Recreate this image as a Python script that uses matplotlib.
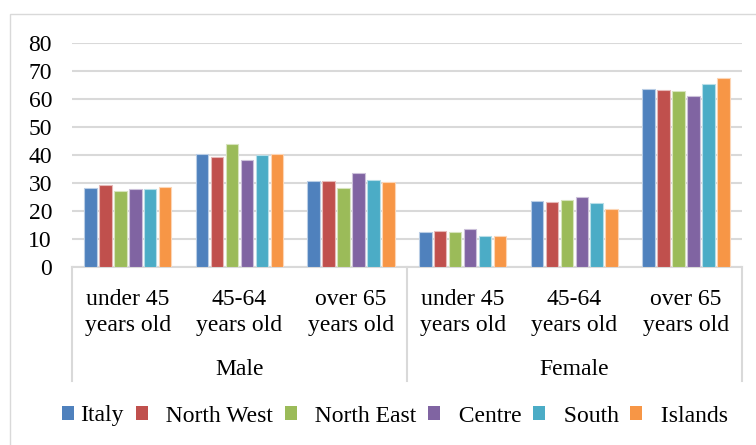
import matplotlib
matplotlib.use("Agg")
import matplotlib.pyplot as plt
import matplotlib.transforms as mtransforms
import matplotlib.colors as mcolors
from matplotlib.patches import Patch, Rectangle
import numpy as np

# ---- data -------------------------------------------------------------
regions = ["Italy", "North West", "North East", "Centre", "South", "Islands"]
region_colors = ["#4F81BD", "#C0504D", "#9BBB59", "#8064A2", "#4BACC6", "#F79646"]
sexes = ["Male", "Female"]
age_line1 = ["under 45", "45-64", "over 65"]
age_line2 = ["years old", "years old", "years old"]

# values per region, ordered Male (3 age groups) then Female (3 age groups)
italy      = [28.2, 40.2, 30.7, 12.6, 23.5, 63.5]
north_west = [29.4, 39.4, 30.6, 12.8, 23.3, 63.3]
north_east = [27.2, 43.8, 28.1, 12.6, 24.0, 62.8]
centre     = [27.8, 38.1, 33.5, 13.5, 24.9, 60.9]
south      = [27.9, 40.1, 31.2, 11.3, 23.0, 65.2]
islands    = [28.6, 40.3, 30.3, 11.1, 20.6, 67.4]
series = [italy, north_west, north_east, centre, south, islands]

y_ticks = [0, 10, 20, 30, 40, 50, 60, 70, 80]

# ---- layout -----------------------------------------------------------
W, H = 756, 445
FONT = "Liberation Serif"
FS = 17
GRID = "#D9D9D9"

plt.rcParams["font.family"] = [FONT, "DejaVu Serif"]

fig = plt.figure(figsize=(W / 100, H / 100), dpi=100)
ax_left, ax_right, ax_top, ax_bottom = 72, 741.7, 42.7, 267.3
ax = fig.add_axes([ax_left / W, 1 - ax_bottom / H,
                   (ax_right - ax_left) / W, (ax_bottom - ax_top) / H])

n_cat = len(italy)
n_ser = len(series)
step = 0.134
bar_w = 0.112
centers = np.arange(n_cat) + 0.5

for k, (vals, col) in enumerate(zip(series, region_colors)):
    rgb = np.array(mcolors.to_rgb(col))
    edge = tuple(rgb + (1 - rgb) * 0.6)
    offs = (k - (n_ser - 1) / 2) * step
    ax.bar(centers + offs, vals, width=bar_w, color=col, edgecolor=edge,
           linewidth=0.8, zorder=3, label=regions[k])

ax.set_xlim(0, n_cat)
ax.set_ylim(0, 80)
ax.set_yticks(y_ticks)
ax.set_yticklabels([str(t) for t in y_ticks], fontsize=FS, family=FONT)
ax.tick_params(axis="y", length=0, pad=(ax_left - 52) * 0.72)
ax.set_xticks([])

for s in ["left", "right", "top"]:
    ax.spines[s].set_visible(False)
ax.spines["bottom"].set_color(GRID)
ax.spines["bottom"].set_linewidth(1.5)
ax.yaxis.grid(True, color=GRID, linewidth=1.5, zorder=0)
ax.set_axisbelow(True)

# two-level category axis
blend = mtransforms.blended_transform_factory(ax.transData, fig.transFigure)
axes_px = ax_bottom - ax_top
sep_bottom = -(381 - ax_bottom) / axes_px
sep_tr = mtransforms.blended_transform_factory(ax.transData, ax.transAxes)
for xs in [0, 3, 6]:
    ax.plot([xs, xs], [0, sep_bottom], color=GRID, linewidth=1.5,
            transform=sep_tr, clip_on=False, zorder=1)

for i in range(n_cat):
    j = i % 3
    ax.text(centers[i], 1 - 305 / H, age_line1[j], transform=blend,
            ha="center", va="baseline", fontsize=FS, family=FONT)
    ax.text(centers[i], 1 - 331 / H, age_line2[j], transform=blend,
            ha="center", va="baseline", fontsize=FS, family=FONT)

for g, name in enumerate(sexes):
    ax.text(1.5 + 3 * g, 1 - 375 / H, name, transform=blend,
            ha="center", va="baseline", fontsize=FS, family=FONT)

# legend
handles = [Patch(facecolor=c, edgecolor="none") for c in region_colors]
labels = [regions[0]] + ["  " + r for r in regions[1:]]
fig.legend(handles, labels, loc="center", bbox_to_anchor=(395 / W, 1 - 416 / H),
           ncol=n_ser, frameon=False, prop={"family": FONT, "size": FS},
           handlelength=0.5, handleheight=0.5, handletextpad=0.28,
           columnspacing=0.5, borderaxespad=0, borderpad=0)

# chart-area border
fig.patches.append(Rectangle((9.5 / W, -0.2), 1.5, 1.2 - 14 / H,
                             transform=fig.transFigure, fill=False,
                             edgecolor=GRID, linewidth=1.0))

fig.savefig("out.png", dpi=100, facecolor="white")
